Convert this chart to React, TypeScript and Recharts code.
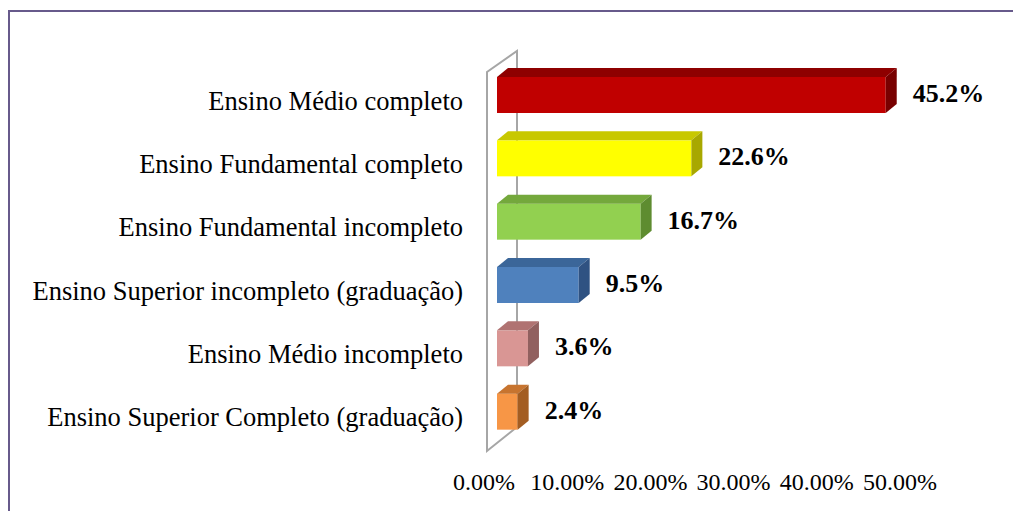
import React from 'react';
import { BarChart, Bar, XAxis, YAxis, ReferenceLine } from 'recharts';

const categories = [
  'Ensino Médio completo',
  'Ensino Fundamental completo',
  'Ensino Fundamental incompleto',
  'Ensino Superior incompleto (graduação)',
  'Ensino Médio incompleto',
  'Ensino Superior Completo (graduação)',
];
const percentages = [45.2, 22.6, 16.7, 9.5, 3.6, 2.4];
const xTicks = [0, 10, 20, 30, 40, 50];

const frontColors = ['#C00000', '#FFFF00', '#92D050', '#4F81BD', '#D99694', '#F79646'];
const topColors = ['#8E0000', '#C8C800', '#74A83C', '#3B6699', '#B07372', '#C7742F'];
const sideColors = ['#780000', '#A8A800', '#5E8C30', '#2F5282', '#91605F', '#A35D22'];

const data = categories.map((name, i) => ({ name, value: percentages[i] }));

const FONT = '"Liberation Serif", "Times New Roman", serif';
const DX = 11;
const DY = 9;

function Bar3D(props: any) {
  const { x, y, width, height, payload } = props;
  let i = categories.indexOf(payload?.name);
  if (i < 0) i = props.index ?? 0;
  const x2 = x + width;
  return (
    <g>
      <rect x={x} y={y} width={width} height={height} fill={frontColors[i]} />
      <polygon
        points={`${x},${y} ${x + DX},${y - DY} ${x2 + DX},${y - DY} ${x2},${y}`}
        fill={topColors[i]}
      />
      <polygon
        points={`${x2},${y} ${x2 + DX},${y - DY} ${x2 + DX},${y + height - DY} ${x2},${y + height}`}
        fill={sideColors[i]}
      />
    </g>
  );
}

function Wall(props: any) {
  const { x1, y1, y2 } = props;
  const fx = x1 - 10;
  const bx = x1 + 20;
  const d = `M${bx},${y1 - 16} L${fx},${y1 + 8} L${fx},${y2 + 9} L${bx},${y2 - 12} Z`;
  return <path d={d} fill="none" stroke="#a6a6a6" strokeWidth={2} />;
}

function ValueLabel(props: any) {
  const { x, y, width, height, value } = props;
  return (
    <text
      x={Number(x) + Number(width) + 27}
      y={Number(y) + Number(height) / 2 + 7}
      fontSize={26}
      fontWeight="bold"
      fontFamily={FONT}
      fill="#000"
    >
      {`${Number(value).toFixed(1)}%`}
    </text>
  );
}

function CategoryTick(props: any) {
  const { x, y, payload } = props;
  return (
    <text x={x} y={Number(y) + 15} textAnchor="end" fontSize={26.5} fontFamily={FONT} fill="#000">
      {payload.value}
    </text>
  );
}

export default function App() {
  return (
    <div
      style={{
        position: 'fixed',
        left: 8,
        top: 10,
        width: 1005,
        height: 501,
        boxSizing: 'border-box',
        borderTop: '2px solid #675a8b',
        borderLeft: '2px solid #675a8b',
        background: '#fff',
      }}
    >
      <BarChart
        width={1003}
        height={499}
        data={data}
        layout="vertical"
        margin={{ top: 51, right: 113, bottom: 0, left: 4 }}
        barSize={36}
        style={{ fontFamily: FONT }}
      >
        <XAxis
          xAxisId="bars"
          type="number"
          domain={[-1.512, 46.86]}
          allowDataOverflow
          height={0}
          hide
        />
        <XAxis
          xAxisId="ticks"
          type="number"
          domain={[0, 50]}
          allowDataOverflow
          ticks={xTicks}
          interval={0}
          tickFormatter={(v: number) => `${Number(v).toFixed(2)}%`}
          axisLine={false}
          tickLine={false}
          tickSize={0}
          tickMargin={30}
          height={68}
          tick={{ fontSize: 24, fill: '#000', fontFamily: FONT }}
        />
        <YAxis
          type="category"
          dataKey="name"
          width={470}
          axisLine={false}
          tickLine={false}
          tickSize={0}
          tickMargin={21}
          interval={0}
          tick={(p: any) => <CategoryTick {...p} />}
        />
        <ReferenceLine
          xAxisId="bars"
          x={0}
          zIndex={-10}
          shape={(p: any) => <Wall {...p} />}
        />
        <Bar
          xAxisId="bars"
          dataKey="value"
          shape={(p: any) => <Bar3D {...p} />}
          label={(p: any) => <ValueLabel {...p} />}
          isAnimationActive={false}
        />
      </BarChart>
    </div>
  );
}
